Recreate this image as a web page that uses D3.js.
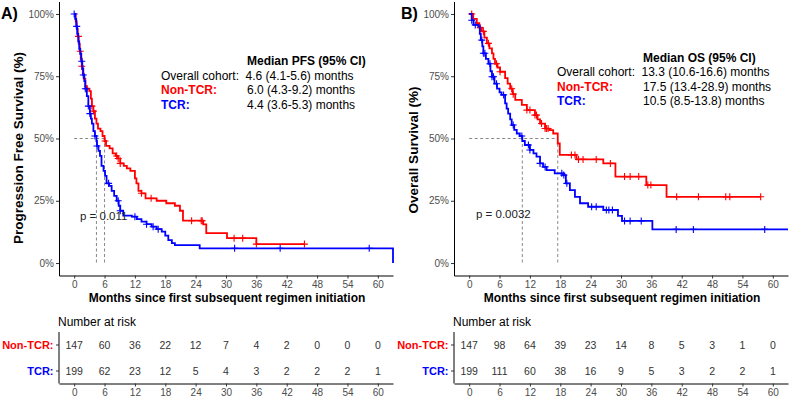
<!DOCTYPE html>
<html>
<head>
<meta charset="utf-8">
<script src="https://cdn.jsdelivr.net/npm/d3@7"></script>
<style>
  body { margin: 0; background: #fff; }
  svg text { font-family: "Liberation Sans", Arial, sans-serif; }
</style>
</head>
<body>
<div id="chart"></div>
<script>
// ---- data ----
const monthTicks = [0, 6, 12, 18, 24, 30, 36, 42, 48, 54, 60];
const survTicks = [0, 0.25, 0.5, 0.75, 1];
const groups = ["Non-TCR:", "TCR:"];
const groupColors = ["#ff0000", "#0000ff"];

// Kaplan-Meier steps: [month, survival after drop]
const pfsNonTcr = [[0,1],[0.3,0.97],[0.5,0.94],[0.7,0.91],[0.9,0.88],[1.1,0.85],[1.3,0.82],[1.5,0.79],[1.7,0.76],
  [1.9,0.74],[2.2,0.71],[2.5,0.70],[3.0,0.69],[3.3,0.66],[3.5,0.63],[3.8,0.61],[4.1,0.58],[4.4,0.56],[4.7,0.54],
  [5.2,0.53],[5.6,0.51],[6.0,0.49],[6.3,0.47],[7.0,0.46],[7.6,0.44],[8.2,0.43],[8.6,0.42],[9.1,0.40],[9.8,0.39],
  [10.4,0.38],[11.1,0.37],[12.0,0.34],[12.3,0.32],[12.7,0.29],[13.3,0.28],[14.1,0.26],[16.3,0.25],[18.2,0.24],
  [19.9,0.23],[20.9,0.21],[21.5,0.17],[25.5,0.155],[26.1,0.12],[30.2,0.10],[36.0,0.076],[45.5,0.076]];
const pfsTcr = [[0,1],[0.2,0.98],[0.4,0.95],[0.6,0.92],[0.8,0.89],[1.0,0.86],[1.2,0.84],[1.4,0.81],[1.6,0.78],
  [1.8,0.755],[2.0,0.73],[2.2,0.70],[2.5,0.67],[2.8,0.63],[3.1,0.60],[3.3,0.58],[3.5,0.56],[3.8,0.53],[4.1,0.51],
  [4.4,0.49],[4.5,0.47],[4.8,0.45],[5.1,0.43],[5.4,0.39],[5.8,0.37],[6.1,0.35],[6.4,0.32],[6.9,0.31],[7.4,0.29],
  [7.9,0.27],[8.4,0.25],[8.8,0.23],[9.1,0.21],[9.7,0.19],[11.4,0.186],[12.4,0.176],[13.3,0.166],[14.3,0.156],
  [15.3,0.146],[16.3,0.136],[17.3,0.126],[18.0,0.11],[18.6,0.092],[19.3,0.08],[19.9,0.072],[24.8,0.059],[63,0]];
const pfsNonTcrCensor = [0.85,1.2,1.5,2.5,3.5,3.8,6.1,8.4,8.7,9.1,13.3,15.2,23.2,25.1,25.3,31.6,33.3,36.0,45.5];
const pfsTcrCensor = [0,0.5,1.5,1.8,2.2,2.8,3.1,4.1,4.5,6.8,8.7,9.1,12.0,14.3,15.6,16.6,31.7,40.7,58.3];

const osNonTcr = [[0,1],[0.8,0.98],[1.5,0.963],[2.0,0.945],[2.5,0.93],[3.0,0.905],[3.5,0.882],[4.0,0.862],
  [4.5,0.842],[4.8,0.82],[5.1,0.80],[5.6,0.785],[6.1,0.768],[7.1,0.742],[7.6,0.72],[8.1,0.70],[8.6,0.678],
  [9.1,0.655],[10.4,0.635],[11.4,0.614],[13.0,0.594],[13.5,0.577],[14.0,0.56],[15.0,0.54],[15.9,0.534],
  [16.6,0.52],[17.5,0.48],[17.9,0.434],[21.2,0.416],[26.5,0.40],[28.9,0.347],[35.0,0.313],[39.0,0.266],[57.6,0.266]];
const osTcr = [[0,1],[0.5,0.975],[0.85,0.956],[1.8,0.95],[2.1,0.92],[2.3,0.895],[2.6,0.87],[2.8,0.842],
  [3.3,0.82],[3.8,0.80],[4.2,0.77],[4.5,0.748],[5.0,0.72],[5.5,0.70],[6.0,0.685],[6.4,0.675],[7.1,0.641],
  [7.4,0.62],[7.7,0.60],[8.1,0.577],[8.4,0.554],[8.9,0.535],[9.4,0.52],[10.0,0.51],[10.5,0.49],[11.0,0.474],
  [12.0,0.454],[12.7,0.44],[13.3,0.427],[14.0,0.40],[14.6,0.386],[15.3,0.373],[16.9,0.36],[18.6,0.353],
  [19.1,0.32],[19.9,0.293],[20.9,0.266],[21.9,0.24],[23.5,0.226],[26.5,0.213],[29.4,0.189],[30.2,0.169],
  [36.2,0.135],[63,0.135]];
const osNonTcrCensor = [0.5,2.2,2.8,3.8,5.4,6.1,8.4,8.7,11.4,12.0,13.0,13.3,14.3,15.0,15.3,15.6,20.2,20.9,21.6,
  22.5,25.1,27.9,30.7,31.8,33.5,35.3,35.9,41.0,45.3,50.7,51.5,57.6];
const osTcrCensor = [0.5,1.2,2.5,2.8,3.1,4.1,4.5,4.8,5.4,6.8,8.7,10.4,11.7,12.0,14.0,15.0,18.3,18.7,19.3,24.2,
  25.1,27.1,27.6,28.3,30.7,31.8,34.0,40.9,44.3,58.4];

const pfsMedians = [6.0, 4.4];
const osMedians = [17.5, 10.5];

const pfsRiskNonTcr = [147, 60, 36, 22, 12, 7, 4, 2, 0, 0, 0];
const pfsRiskTcr = [199, 62, 23, 12, 5, 4, 3, 2, 2, 2, 1];
const osRiskNonTcr = [147, 98, 64, 39, 23, 14, 8, 5, 3, 1, 0];
const osRiskTcr = [199, 111, 60, 38, 16, 9, 5, 3, 2, 2, 1];

const pfsLegend = ["4.6 (4.1-5.6) months", "6.0 (4.3-9.2) months", "4.4 (3.6-5.3) months"];
const osLegend = ["13.3 (10.6-16.6) months", "17.5 (13.4-28.9) months", "10.5 (8.5-13.8) months"];

const width = 791, height = 397;
const svg = d3.select("#chart").append("svg")
    .attr("width", width)
    .attr("height", height)
    .attr("viewBox", [0, 0, width, height]);

function survAt(steps, t) {
    let s = steps[0][1];
    for (const [tt, ss] of steps) {
        if (tt <= t) s = ss; else break;
    }
    return s;
}

function styleAxis(g) {
    g.attr("font-family", null).attr("font-size", null);
    g.select(".domain").attr("stroke", "#000").attr("stroke-width", 1);
    g.selectAll(".tick line").attr("stroke", "#333");
    g.selectAll(".tick text").attr("fill", "#4d4d4d").style("font-size", "10px");
}

function drawPanel(o) {
    const g = svg.append("g").attr("transform", `translate(${o.dx},0)`);
    const x = d3.scaleLinear().domain([-3, 63]).range([59, 393]);
    const y = d3.scaleLinear().domain([-0.05, 1.05]).range([275.5, 1.5]);

    // axes
    g.append("g")
        .attr("transform", `translate(0,${y(-0.05)})`)
        .call(d3.axisBottom(x).tickValues(monthTicks).tickSize(3).tickSizeOuter(0).tickPadding(2))
        .call(styleAxis);
    g.append("g")
        .attr("transform", `translate(${x(-3)},0)`)
        .call(d3.axisLeft(y).tickValues(survTicks).tickFormat(d3.format(".0%")).tickSize(3).tickSizeOuter(0).tickPadding(2))
        .call(styleAxis);

    // median lines
    const dash = g.append("g").attr("stroke", "#555").attr("stroke-width", 0.7)
        .attr("stroke-dasharray", "3,2.5").attr("fill", "none");
    dash.append("line")
        .attr("x1", x(0)).attr("x2", x(d3.max(o.medians)))
        .attr("y1", y(0.5)).attr("y2", y(0.5));
    o.medians.forEach(m => {
        dash.append("line")
            .attr("x1", x(m)).attr("x2", x(m))
            .attr("y1", y(0.5)).attr("y2", y(0));
    });

    // curves + censor marks
    const line = d3.line().curve(d3.curveStepAfter).x(d => x(d[0])).y(d => y(d[1]));
    o.curves.forEach((steps, i) => {
        g.append("path")
            .attr("fill", "none")
            .attr("stroke", groupColors[i])
            .attr("stroke-width", 1.8)
            .attr("d", line(steps));
        const c = g.append("g").attr("stroke", groupColors[i]).attr("stroke-width", 1.1);
        o.censors[i].forEach(t => {
            const cx = x(t), cy = y(survAt(steps, t));
            c.append("path").attr("d", `M${cx - 3.5},${cy}H${cx + 3.5}M${cx},${cy - 3.5}V${cy + 3.5}`);
        });
    });

    // titles
    g.append("text")
        .attr("transform", `translate(${o.yTitleX},${o.yTitleY}) rotate(-90)`)
        .attr("text-anchor", "middle")
        .style("font-size", "13.5px").style("font-weight", "bold")
        .text(o.yTitle);
    g.append("text")
        .attr("x", (x(-3) + x(63)) / 2 + 1).attr("y", 302)
        .attr("text-anchor", "middle")
        .style("font-size", "12px").style("font-weight", "bold")
        .text("Months since first subsequent regimen initiation");
    g.append("text")
        .attr("x", o.labelX).attr("y", 19)
        .style("font-size", "16px").style("font-weight", "bold")
        .text(o.label);

    // legend
    const lg = g.append("g").style("font-size", "12px");
    lg.append("text").attr("x", o.legX2).attr("y", o.legY)
        .style("font-weight", "bold").text(o.legTitle);
    const names = ["Overall cohort:"].concat(groups);
    const colors = ["#000"].concat(groupColors);
    names.forEach((n, i) => {
        lg.append("text").attr("x", o.legX1).attr("y", o.legY + 14.5 * (i + 1))
            .attr("fill", colors[i]).style("font-weight", i ? "bold" : null).text(n);
        lg.append("text").attr("x", o.legX2 - (i ? 0 : 1.5)).attr("y", o.legY + 14.5 * (i + 1))
            .text(o.legValues[i]);
    });

    // p value
    g.append("text").attr("x", o.pX).attr("y", o.pY)
        .attr("fill", "#222").style("font-size", "11.5px").text(o.pText);

    // risk table
    const rows = [345, 371];
    g.append("text").attr("x", 58).attr("y", 325.5).style("font-size", "12px").text("Number at risk");
    g.append("line").attr("x1", 59).attr("x2", 59).attr("y1", 332).attr("y2", 383.5).attr("stroke", "#000");
    g.append("g")
        .attr("transform", "translate(0,383.5)")
        .call(d3.axisBottom(x).tickValues(monthTicks).tickSize(3).tickSizeOuter(0).tickPadding(2))
        .call(styleAxis);
    o.risk.forEach((vals, i) => {
        g.append("line").attr("x1", 56).attr("x2", 59).attr("y1", rows[i]).attr("y2", rows[i]).attr("stroke", "#333");
        g.append("text").attr("x", 53.5).attr("y", rows[i] + 4)
            .attr("text-anchor", "end").attr("fill", groupColors[i])
            .style("font-size", "11px").style("font-weight", "bold").text(groups[i]);
        g.append("g").selectAll("text").data(vals).join("text")
            .attr("x", (d, j) => x(monthTicks[j]))
            .attr("y", rows[i] + 3.5)
            .attr("text-anchor", "middle")
            .attr("fill", "#333")
            .style("font-size", "10.5px")
            .text(d => d);
    });
}

drawPanel({
    dx: 0, label: "A)", labelX: 1,
    yTitle: "Progression Free Survival (%)", yTitleX: 23, yTitleY: 148,
    curves: [pfsNonTcr, pfsTcr], censors: [pfsNonTcrCensor, pfsTcrCensor],
    medians: pfsMedians,
    legTitle: "Median PFS (95% CI)", legValues: pfsLegend, legX1: 161, legX2: 247, legY: 65,
    pText: "p = 0.011", pX: 80, pY: 219.5,
    risk: [pfsRiskNonTcr, pfsRiskTcr]
});
drawPanel({
    dx: 395, label: "B)", labelX: 6,
    yTitle: "Overall Survival (%)", yTitleX: 23, yTitleY: 150,
    curves: [osNonTcr, osTcr], censors: [osNonTcrCensor, osTcrCensor],
    medians: osMedians,
    legTitle: "Median OS (95% CI)", legValues: osLegend, legX1: 162, legX2: 248, legY: 61.5,
    pText: "p = 0.0032", pX: 81, pY: 217.5,
    risk: [osRiskNonTcr, osRiskTcr]
});
</script>
</body>
</html>
